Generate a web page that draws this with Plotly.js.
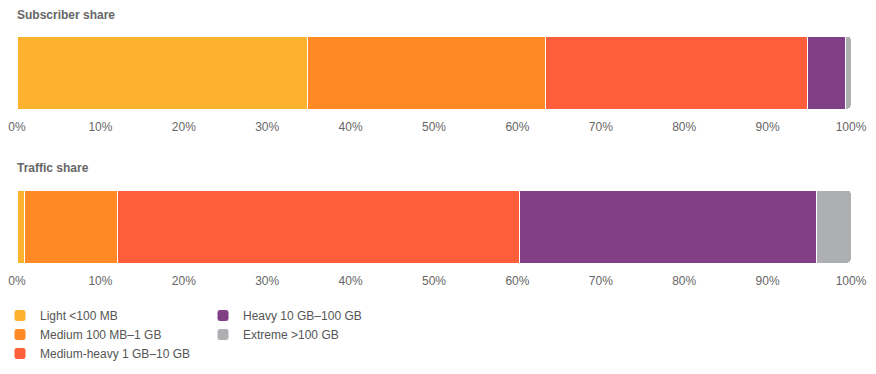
<!DOCTYPE html>
<html>
<head>
<meta charset="utf-8">
<script src="https://cdn.plot.ly/plotly-3.0.1.min.js"></script>
<style>html,body{margin:0;padding:0;background:#fff;}#chart{width:876px;height:374px;}</style>
</head>
<body>
<div id="chart"></div>
<script>
const categories = ["Light <100 MB", "Medium 100 MB–1 GB", "Medium-heavy 1 GB–10 GB", "Heavy 10 GB–100 GB", "Extreme >100 GB"];
const colors = ["#FDB22F", "#FF8A25", "#FF5E3A", "#813F86", "#AEAFB3"];
const subscriberShare = [34.8, 28.6, 31.4, 4.5, 0.7];
const trafficShare = [0.9, 11.2, 48.2, 35.6, 4.1];
const panelTitles = ["Subscriber share", "Traffic share"];
const tickVals = [0, 10, 20, 30, 40, 50, 60, 70, 80, 90, 100];
const tickText = tickVals.map(v => v + "%");

const W = 876, H = 374;
const X0 = 17, X1 = 851;
const legendOf = ["legend", "legend", "legend", "legend2", "legend2"];
const traces = [];
categories.forEach((c, i) => {
  traces.push({type: "bar", orientation: "h", name: c, x: [subscriberShare[i]], y: ["s"],
    xaxis: "x", yaxis: "y", marker: {color: colors[i], line: {color: "#fff", width: 1}},
    legendgroup: c, showlegend: true, legend: legendOf[i], hoverinfo: "skip", width: 1});
  traces.push({type: "bar", orientation: "h", name: c, x: [trafficShare[i]], y: ["t"],
    xaxis: "x2", yaxis: "y2", marker: {color: colors[i], line: {color: "#fff", width: 1}},
    legendgroup: c, showlegend: false, hoverinfo: "skip", width: 1});
});

const font = {family: "Liberation Sans, Arial, sans-serif", size: 12, color: "#666"};
const xax = {domain: [X0 / W, X1 / W], range: [0, 100], tickvals: tickVals, ticktext: tickText, showgrid: false, zeroline: false,
  showline: false, ticks: "", ticklabelstandoff: 9, tickfont: {size: 12, color: "#666"}, fixedrange: true, automargin: false};
const layout = {
  width: W, height: H,
  margin: {l: 0, r: 0, t: 0, b: 0},
  paper_bgcolor: "#fff", plot_bgcolor: "#fff",
  font: font,
  barmode: "stack",
  barcornerradius: 3,
  xaxis: Object.assign({anchor: "y"}, xax),
  xaxis2: Object.assign({anchor: "y2"}, xax),
  yaxis: {domain: [(H - 109) / H, (H - 36) / H], range: [-0.5, 0.5], visible: false, fixedrange: true},
  yaxis2: {domain: [(H - 263) / H, (H - 190) / H], range: [-0.5, 0.5], visible: false, fixedrange: true},
  showlegend: true,
  legend: {x: 0 / W, y: 1 - 301 / H, xanchor: "left", yanchor: "top",
    font: {size: 12, color: "#555"}, bgcolor: "rgba(0,0,0,0)", tracegroupgap: 0, itemclick: false, itemdoubleclick: false},
  legend2: {x: 203 / W, y: 1 - 301 / H, xanchor: "left", yanchor: "top",
    font: {size: 12, color: "#555"}, bgcolor: "rgba(0,0,0,0)", tracegroupgap: 0, itemclick: false, itemdoubleclick: false},
  annotations: panelTitles.map((t, i) => ({text: "<b>" + t + "</b>", xref: "paper", yref: "paper",
    x: (X0 - 2) / W, y: 1 - [15, 168][i] / H, xanchor: "left", yanchor: "middle", showarrow: false,
    font: {size: 12, color: "#666"}}))
};
Plotly.newPlot("chart", traces, layout, {displayModeBar: false, staticPlot: true});
</script>
</body>
</html>
